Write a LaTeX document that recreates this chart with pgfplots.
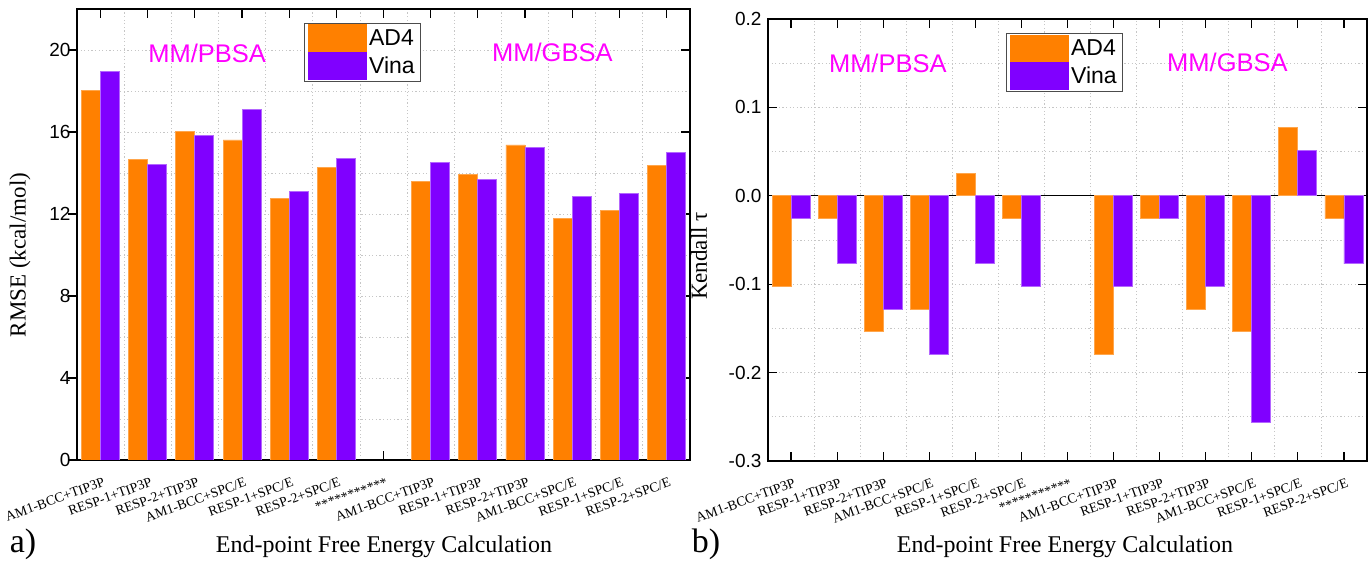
\documentclass[border=0pt]{standalone}
\usepackage{pgfplots}
\usepackage{pgfplotstable}
\pgfplotsset{compat=1.18}
\usepackage{fontspec}
\setmainfont{Liberation Serif}
\newfontfamily\arial{Liberation Sans}
\definecolor{cAD}{RGB}{255,128,0}
\definecolor{cVina}{RGB}{128,0,255}
\definecolor{cMag}{RGB}{255,0,255}

\pgfplotstableread{
x ad4 vina
0 18.01 18.94
1 14.67 14.42
2 16.01 15.82
3 15.61 17.12
4 12.75 13.09
5 14.26 14.73
7 13.58 14.52
8 13.94 13.67
9 15.37 15.25
10 11.77 12.84
11 12.18 13.02
12 14.35 15.01
}\rmsetab

\pgfplotstableread{
x ad4 vina
0 -0.1026 -0.0256
1 -0.0256 -0.0769
2 -0.1538 -0.1282
3 -0.1282 -0.1795
4 0.0256 -0.0769
5 -0.0256 -0.1026
7 -0.1795 -0.1026
8 -0.0256 -0.0256
9 -0.1282 -0.1026
10 -0.1538 -0.2564
11 0.0769 0.0513
12 -0.0256 -0.0769
}\tautab

\pgfplotsset{
  common/.style={
    anchor=south west, scale only axis,
    xmin=-0.5, xmax=12.5,
    ybar=0pt, bar width=19pt,
    xtick={0,...,12},
    xticklabels={AM1-BCC+TIP3P,RESP-1+TIP3P,RESP-2+TIP3P,AM1-BCC+SPC/E,RESP-1+SPC/E,RESP-2+SPC/E,***********,AM1-BCC+TIP3P,RESP-1+TIP3P,RESP-2+TIP3P,AM1-BCC+SPC/E,RESP-1+SPC/E,RESP-2+SPC/E},
    minor x tick num=1,
    minor y tick num=1,
    xmajorgrids=false, xminorgrids=true, ymajorgrids=true, yminorgrids=true,
    grid style={gray!45, line width=0.8pt, dash pattern=on 1.2pt off 2.4pt},
    tick align=inside, xtick pos=both,
    major tick length=9pt, minor tick length=0pt,
    axis line style={line width=1.3pt},
    tick style={line width=1.2pt, black},
    /pgf/number format/assume math mode=true,
    yticklabel style={font=\arial\fontsize{19}{21}\selectfont, xshift=-3pt},
    xticklabel style={font=\fontsize{13.8}{14}\selectfont, yshift=-17pt, xshift=2pt, rotate=20, anchor=north east, inner sep=0pt},
    legend style={draw=black!70, line width=1pt, font=\arial\fontsize{23}{25}\selectfont, inner xsep=4pt, inner ysep=1pt, row sep=0pt, cells={anchor=west}},
  },
  adbar/.style={fill=cAD, draw=cAD!70!white, line width=0.8pt,
    legend image code/.code={\fill[cAD] (0pt,-13.5pt) rectangle (58pt,13.5pt);}},
  vibar/.style={fill=cVina, draw=cVina!60!white, line width=0.8pt,
    legend image code/.code={\fill[cVina] (0pt,-13.5pt) rectangle (58pt,13.5pt);}},
}

\begin{document}
\begin{tikzpicture}
\path[use as bounding box] (0pt,0pt) rectangle (1368pt,562pt);

% ---- panel a ----
\begin{axis}[common,
  at={(77pt,102pt)}, width=613pt, height=451pt,
  ymin=0, ymax=22, ytick={0,4,...,20},
  ytick pos=right, yticklabel pos=left,
  legend style={at={(rel axis cs:0.370,0.969)}, anchor=north west},
]
\addplot[adbar] table[x=x, y=ad4] {\rmsetab};
\addplot[vibar] table[x=x, y=vina] {\rmsetab};
\legend{AD4,Vina}
\node[font=\arial\fontsize{25.5}{27}\selectfont, text=cMag] at (axis cs:2.26,19.85) {MM/PBSA};
\node[font=\arial\fontsize{25.5}{27}\selectfont, text=cMag] at (axis cs:9.58,19.9) {MM/GBSA};
\end{axis}
% left outward ticks for panel a
\begin{axis}[
  at={(77pt,102pt)}, anchor=south west, scale only axis, width=613pt, height=451pt,
  xmin=-0.5, xmax=12.5, ymin=0, ymax=22, ytick={0,4,...,20}, yticklabels={},
  xtick=\empty, ytick pos=left, tick align=outside, major tick length=9pt,
  axis line style={draw=none}, tick style={line width=1.2pt, black},
]
\addplot[draw=none] coordinates {(0,0)};
\end{axis}

% ---- panel b ----
\begin{axis}[common,
  at={(768pt,101pt)}, width=599pt, height=442pt,
  ymin=-0.3, ymax=0.2, ytick={-0.3,-0.2,-0.1,0,0.1,0.2},
  ytick pos=both,
  yticklabel style={/pgf/number format/.cd, fixed, fixed zerofill, precision=1},
  extra y ticks={0}, extra y tick labels={},
  extra y tick style={grid=major, major grid style={black, solid, line width=1.2pt}},
  legend style={at={(rel axis cs:0.397,0.968)}, anchor=north west},
]
\addplot[adbar] table[x=x, y=ad4] {\tautab};
\addplot[vibar] table[x=x, y=vina] {\tautab};
\legend{AD4,Vina}
\node[font=\arial\fontsize{25.5}{27}\selectfont, text=cMag] at (axis cs:2.10,0.150) {MM/PBSA};
\node[font=\arial\fontsize{25.5}{27}\selectfont, text=cMag] at (axis cs:9.47,0.151) {MM/GBSA};
\end{axis}

% ---- labels ----
\node[rotate=90, font=\fontsize{23}{25}\selectfont] at (20pt,307pt) {RMSE (kcal/mol)};
\node[rotate=90, font=\fontsize{23}{25}\selectfont] at (699pt,306pt) {Kendall τ};
\node[font=\fontsize{24}{26}\selectfont] at (384pt,15pt) {End-point Free Energy Calculation};
\node[font=\fontsize{24}{26}\selectfont] at (1065pt,15pt) {End-point Free Energy Calculation};
\node[font=\fontsize{34}{36}\selectfont] at (23pt,18pt) {a)};
\node[font=\fontsize{34}{36}\selectfont] at (706pt,18pt) {b)};
\end{tikzpicture}
\end{document}
